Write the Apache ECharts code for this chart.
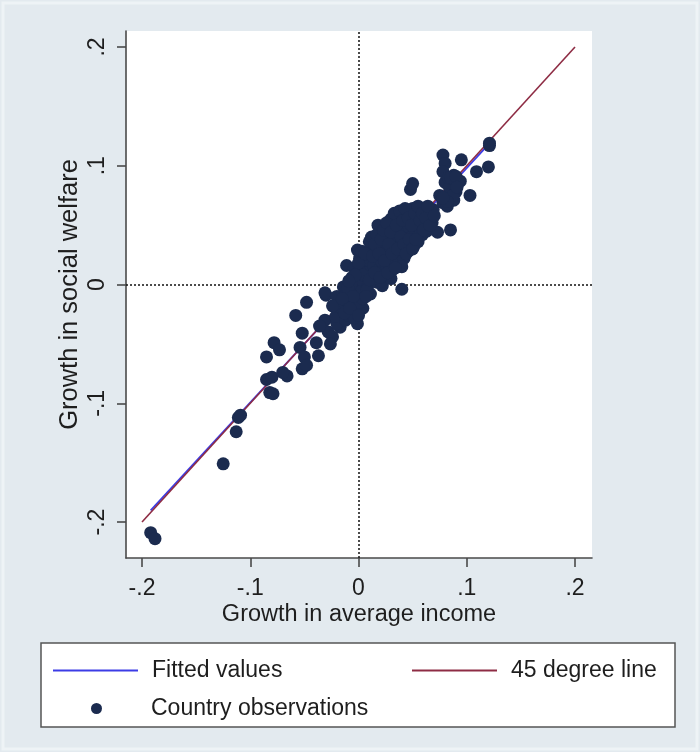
<!DOCTYPE html>
<html>
<head>
<meta charset="utf-8">
<title>Growth in social welfare vs growth in average income</title>
<script src="https://cdn.jsdelivr.net/npm/echarts@6/dist/echarts.min.js"></script>
<style>
  html, body { margin: 0; padding: 0; background: #e3eaef; }
  #chart { width: 700px; height: 752px; }
</style>
</head>
<body>
<div id="chart"></div>
<script>
// Tick positions and their Stata-style labels (shared by both axes)
const tickValues = [-0.2, -0.1, 0, 0.1, 0.2];
const tickLabels = ['-.2', '-.1', '0', '.1', '.2'];

// Country observations: growth in average income (x) and in social welfare (y)
const obsIncome = [
  -0.192, -0.188, -0.125, -0.111, -0.113, -0.109,
  -0.085, -0.082, -0.079, -0.080, -0.085, -0.078, -0.073, -0.066, -0.070,
  -0.058, -0.048, -0.052, -0.054, -0.050, -0.052, -0.048, -0.037, -0.039,
  -0.031, -0.028, -0.024, -0.017, -0.020, -0.030, -0.031, -0.036, -0.026, -0.021, -0.012,
  -0.017, -0.011, -0.006, -0.001, 0.004, -0.001, -0.011, -0.001,
  -0.014, -0.009, -0.004, -0.013, 0.001, -0.020, -0.024,
  -0.006, -0.004, -0.003, -0.002, 0.000, 0.001, 0.002, 0.003, 0.004, 0.005, -0.008, -0.007, 0.003,
  0.008, 0.009, 0.010, 0.011, 0.012, 0.010, 0.013, 0.014, 0.008, 0.012,
  0.016, 0.017, 0.018, 0.019, 0.020, 0.021, 0.022, 0.023, 0.024, 0.025, 0.018, 0.022, 0.026,
  0.027, 0.028, 0.029, 0.030, 0.031, 0.032, 0.033, 0.034, 0.035, 0.036, 0.030, 0.037,
  0.038, 0.039, 0.040, 0.041, 0.042, 0.043, 0.044, 0.045, 0.046, 0.047, 0.040,
  0.048, 0.049, 0.050, 0.051, 0.052, 0.053, 0.054, 0.055, 0.056,
  0.057, 0.058, 0.059, 0.060, 0.061, 0.062, 0.063, 0.065, 0.066, 0.068, 0.069, 0.067,
  0.040, 0.073, 0.085, 0.048, 0.050,
  0.075, 0.078, 0.085, 0.088, 0.080, 0.086, 0.092, 0.094, 0.088,
  0.078, 0.080, 0.078, 0.095, 0.109, 0.120, 0.121, 0.121, 0.103,
  0.082, 0.084, 0.090, 0.083,
  0.000, 0.004, 0.006, 0.007, 0.010, 0.013, 0.015, 0.015, 0.017, 0.019,
  0.020, 0.021, 0.023, 0.024, 0.026, 0.027, 0.028, 0.030, 0.031, 0.033,
  0.034, 0.035, 0.036, 0.038, 0.039, 0.041, 0.042, 0.043, 0.044, 0.046,
  0.047, 0.049, 0.050, 0.052, 0.053, 0.055, 0.057, 0.059, 0.060, 0.062,
  0.064, 0.066, 0.070,
  0.085, 0.090, 0.087, 0.091, 0.082, 0.078,
  -0.010, -0.005, -0.015, -0.008, 0.000, -0.003, -0.009
];
const obsWelfare = [
  -0.209, -0.214, -0.151, -0.112, -0.124, -0.110,
  -0.080, -0.091, -0.092, -0.078, -0.061, -0.049, -0.055, -0.077, -0.074,
  -0.026, -0.015, -0.041, -0.053, -0.061, -0.071, -0.068, -0.060, -0.049,
  -0.030, -0.040, -0.044, -0.036, -0.033, -0.009, -0.007, -0.035, -0.050, -0.027, -0.030,
  -0.019, -0.013, -0.018, -0.022, -0.020, -0.033, 0.016, 0.029,
  -0.002, -0.026, -0.028, -0.024, -0.015, -0.010, -0.018,
  0.006, 0.014, -0.004, 0.002, 0.010, 0.022, -0.006, 0.004, -0.012, 0.015, -0.006, 0.000, 0.028,
  0.010, 0.000, 0.020, -0.008, 0.030, 0.036, 0.006, 0.016, -0.004, 0.040,
  0.024, 0.002, 0.012, 0.035, 0.045, 0.020, 0.028, 0.008, 0.050, 0.038, 0.050, -0.001, 0.016,
  0.030, 0.044, 0.022, 0.055, 0.012, 0.036, 0.048, 0.026, 0.058, 0.040, 0.005, 0.018,
  0.050, 0.030, 0.060, 0.044, 0.022, 0.054, 0.036, 0.063, 0.028, 0.048, 0.015,
  0.058, 0.040, 0.064, 0.032, 0.052, 0.044, 0.062, 0.036, 0.055,
  0.046, 0.064, 0.042, 0.058, 0.050, 0.064, 0.045, 0.056, 0.062, 0.052, 0.063, 0.047,
  -0.004, 0.044, 0.046, 0.080, 0.085,
  0.075, 0.069, 0.079, 0.071, 0.086, 0.087, 0.086, 0.087, 0.092,
  0.109, 0.102, 0.095, 0.105, 0.095, 0.099, 0.117, 0.119, 0.075,
  0.066, 0.082, 0.078, 0.090,
  0.018, 0.008, 0.026, -0.010, 0.004, 0.024, 0.034, 0.010, 0.042, 0.026,
  0.006, 0.038, 0.046, 0.020, 0.052, 0.010, 0.034, 0.044, 0.026, 0.060,
  0.014, 0.050, 0.030, 0.062, 0.040, 0.054, 0.034, 0.064, 0.026, 0.056,
  0.038, 0.050, 0.030, 0.060, 0.038, 0.066, 0.054, 0.060, 0.046, 0.056,
  0.066, 0.050, 0.058,
  0.090, 0.091, 0.075, 0.082, 0.070, 0.073,
  -0.003, -0.010, -0.012, -0.020, -0.026, 0.008, 0.003
];

// 45 degree reference line end points
const lineX = [-0.2, 0.2];
const lineY = [-0.2, 0.2];

// Ordinary least squares fit of welfare growth on income growth
function olsFit(xs, ys) {
  const n = xs.length;
  const mx = xs.reduce((s, v) => s + v, 0) / n;
  const my = ys.reduce((s, v) => s + v, 0) / n;
  let sxy = 0, sxx = 0;
  for (let i = 0; i < n; i++) {
    sxy += (xs[i] - mx) * (ys[i] - my);
    sxx += (xs[i] - mx) * (xs[i] - mx);
  }
  const b = sxy / sxx;
  return { a: my - b * mx, b: b };
}
const fit = olsFit(obsIncome, obsWelfare);
const fitXs = [Math.min.apply(null, obsIncome), Math.max.apply(null, obsIncome)];
const fittedData = fitXs.map(x => [x, fit.a + fit.b * x]);

const observations = obsIncome.map((x, i) => [x, obsWelfare[i]]);
const diagonal = lineX.map((x, i) => [x, lineY[i]]);

const FONT = '"Liberation Sans", Arial, Helvetica, sans-serif';
const INK = '#1e1e1e';
const AXIS = '#4a4a4a';

function tickText(v) {
  for (let i = 0; i < tickValues.length; i++) {
    if (Math.abs(tickValues[i] - v) < 1e-9) return tickLabels[i];
  }
  return '';
}

function axisCommon(name, nameGap, nameSize, labelRotate, labelMargin) {
  return {
    type: 'value',
    name: name,
    nameLocation: 'middle',
    nameGap: nameGap,
    nameMoveOverlap: false,
    nameTextStyle: { fontFamily: FONT, fontSize: nameSize, color: INK },
    axisLine: { show: true, onZero: false, lineStyle: { color: AXIS, width: 1.6 } },
    axisTick: { show: true, length: 9, customValues: tickValues, lineStyle: { color: AXIS, width: 1.6 } },
    axisLabel: {
      customValues: tickValues,
      formatter: tickText,
      rotate: labelRotate,
      margin: labelMargin,
      fontFamily: FONT, fontSize: 23, color: INK
    },
    splitLine: { show: false }
  };
}

const chart = echarts.init(document.getElementById('chart'), null, { renderer: 'canvas' });

const xAxis = axisCommon('Growth in average income', 45, 23.5, 0, 19);
xAxis.min = -0.2148; xAxis.max = 0.2157;
const yAxis = axisCommon('Growth in social welfare', 43, 25.5, 90, 17);
yAxis.min = -0.2303; yAxis.max = 0.2135;

const legendText = { fontFamily: FONT, fontSize: 23, color: INK, padding: [0, 0, 0, 9] };
const lineLegend = {
  orient: 'horizontal', padding: 0, itemWidth: 85, itemHeight: 2,
  selectedMode: false, textStyle: legendText
};

chart.setOption({
  animation: false,
  backgroundColor: '#e3eaef',
  grid: {
    left: 126, right: 108, top: 31, bottom: 194,
    show: true, backgroundColor: '#ffffff', borderWidth: 0
  },
  xAxis: xAxis,
  yAxis: yAxis,
  legend: [
    Object.assign({}, lineLegend, { left: 53, top: 659, data: [{ name: 'Fitted values', icon: 'rect' }] }),
    Object.assign({}, lineLegend, { left: 412, top: 659, data: [{ name: '45 degree line', icon: 'rect' }] }),
    {
      orient: 'horizontal', padding: 0, itemWidth: 11, itemHeight: 11,
      selectedMode: false,
      textStyle: Object.assign({}, legendText, { padding: [0, 0, 0, 44] }),
      left: 91, top: 697,
      data: [{ name: 'Country observations', icon: 'circle' }]
    }
  ],
  graphic: [
    {
      type: 'rect', z: -1, silent: true,
      shape: { x: 3, y: 3, width: 694, height: 746 },
      style: { fill: null, stroke: '#eef3f6', lineWidth: 3 }
    },
    {
      type: 'rect', z: 1, silent: true,
      shape: { x: 41, y: 643, width: 634, height: 84 },
      style: { fill: '#ffffff', stroke: '#555555', lineWidth: 1.5 }
    }
  ],
  series: [
    {
      name: 'Fitted values',
      type: 'line',
      data: fittedData,
      showSymbol: false,
      symbol: 'none',
      silent: true,
      lineStyle: { color: '#3c3ce6', width: 1.8 },
      itemStyle: { color: '#3c3ce6' },
      z: 2
    },
    {
      name: '45 degree line',
      type: 'line',
      data: diagonal,
      showSymbol: false,
      symbol: 'none',
      silent: true,
      lineStyle: { color: '#8e2c44', width: 1.6 },
      itemStyle: { color: '#8e2c44' },
      z: 3,
      markLine: {
        silent: true,
        symbol: 'none',
        label: { show: false },
        lineStyle: { color: '#111111', type: [2, 2], width: 1.5 },
        data: [{ xAxis: 0 }, { yAxis: 0 }],
        z: 1
      }
    },
    {
      name: 'Country observations',
      type: 'scatter',
      data: observations,
      symbol: 'circle',
      symbolSize: 13,
      silent: true,
      itemStyle: { color: '#1b2b4f', opacity: 1 },
      z: 4
    }
  ]
});
</script>
</body>
</html>
